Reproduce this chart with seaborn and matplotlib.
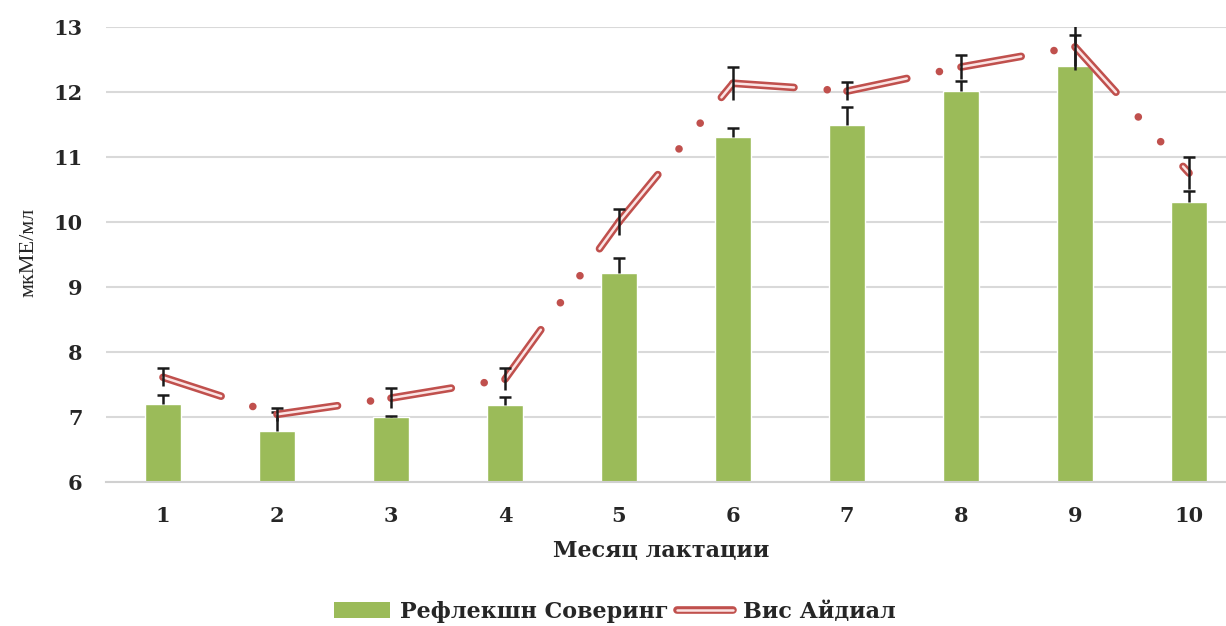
import numpy as np
import pandas as pd
import matplotlib
matplotlib.use("Agg")
import matplotlib.pyplot as plt
import matplotlib.patheffects as pe
from matplotlib.lines import Line2D
from matplotlib.patches import Patch
import seaborn as sns

# данные
months = ["1", "2", "3", "4", "5", "6", "7", "8", "9", "10"]
reflection = [7.2, 6.78, 7.0, 7.18, 9.21, 11.3, 11.49, 12.01, 12.4, 10.3]
reflection_err = [0.13, 0.29, 0.02, 0.12, 0.23, 0.15, 0.27, 0.15, 0.47, 0.17]
vis = [7.61, 7.04, 7.29, 7.58, 10.0, 12.13, 12.01, 12.38, 12.69, 10.75]
vis_err = [0.14, 0.1, 0.15, 0.17, 0.2, 0.25, 0.14, 0.18, 0.36, 0.25]

green = "#9BBB59"
red = "#C0504D"
inner = "#FBE4E4"
black = "#1a1a1a"

sns.set_style("white")
plt.rcParams["font.family"] = ["DejaVu Serif"]
plt.rcParams["lines.scale_dashes"] = False

df = pd.DataFrame({"month": months, "refl": reflection})

W, H = 1226, 626
fig = plt.figure(figsize=(W / 100, H / 100), dpi=100)
ax = fig.add_axes([106 / W, (H - 482) / H, 1140 / W, (482 - 26.7) / H])

sns.barplot(data=df, x="month", y="refl", color=green, width=0.31,
            saturation=1, ax=ax, zorder=2)
pos = np.arange(len(months))
refl_top = np.array(reflection) + np.array(reflection_err)
ax.vlines(pos, reflection, refl_top, color=black, lw=1.8, zorder=3)
ax.plot(pos, refl_top, ls="none", marker="_", ms=8, mew=1.8, color=black, zorder=3)

# линия Вис Айдиал: каждый отрезок со своим пунктиром (как в Excel)
seg = pd.DataFrame({
    "x": np.repeat(pos, 2)[1:-1],
    "y": np.repeat(vis, 2)[1:-1],
    "seg": np.repeat(np.arange(len(vis) - 1), 2),
})
n0 = len(ax.lines)
sns.lineplot(data=seg, x="x", y="y", units="seg", estimator=None, sort=False,
             color=red, lw=5.5, ax=ax, zorder=4)
n1 = len(ax.lines)
sns.lineplot(data=seg, x="x", y="y", units="seg", estimator=None, sort=False,
             color=inner, lw=1.8, ax=ax, zorder=4.5)
for i, ln in enumerate(ax.lines[n0:]):
    if i < n1 - n0:
        ln.set_linestyle((0, (44, 24, 0.01, 24, 0.01, 24)))
    else:
        ln.set_linestyle((0, (44, 72.02)))
    ln.set_dash_capstyle("round")

vis_top = np.array(vis) + np.array(vis_err)
vis_low = np.array(vis) - np.array(vis_err)
ax.vlines(pos, vis_low, vis_top, color=black, lw=1.8, zorder=5)
ax.plot(pos, vis_top, ls="none", marker="_", ms=8, mew=1.8, color=black, zorder=5)

ax.set_ylim(6, 13)
ax.set_xlim(-0.5, 9.5)
ax.set_yticks(range(6, 14))
ax.yaxis.grid(True, color="#D9D9D9", lw=1.5)
ax.set_axisbelow(True)
for s in ["top", "right", "left"]:
    ax.spines[s].set_visible(False)
ax.spines["bottom"].set_color("#D0D0D0")
ax.spines["bottom"].set_linewidth(1.5)

ax.set_xticks(np.arange(-0.5, 10, 1), minor=True)
ax.tick_params(axis="x", which="minor", length=10, width=1.5, color="#D0D0D0",
               direction="out")
ax.tick_params(axis="x", which="major", length=0, pad=17, labelsize=15)
ax.tick_params(axis="y", length=0, pad=17, labelsize=15)
for t in ax.get_xticklabels() + ax.get_yticklabels():
    t.set_fontweight("bold")

ax.set_xlabel("")
ax.set_ylabel("")
fig.text(661 / W, 1 - 551 / H, "Месяц лактации", ha="center", va="center",
         fontsize=16, fontweight="bold")
fig.text(29 / W, 1 - 252 / H, "мкМЕ/мл", ha="center", va="center",
         rotation=90, fontsize=16, family=["Liberation Serif", "DejaVu Serif"])

handles = [Patch(facecolor=green, edgecolor="none"),
           Line2D([], [], color=inner, lw=1.8,
                  path_effects=[pe.Stroke(linewidth=5.5, foreground=red), pe.Normal()])]
fig.legend(handles, ["Рефлекшн Соверинг", "Вис Айдиал"], loc="center",
           bbox_to_anchor=(615 / W, 1 - 612 / H), ncol=2, frameon=False,
           prop={"weight": "bold", "size": 16}, handlelength=2.5,
           handletextpad=0.45, columnspacing=0.4)

fig.savefig("out.png", dpi=100)
